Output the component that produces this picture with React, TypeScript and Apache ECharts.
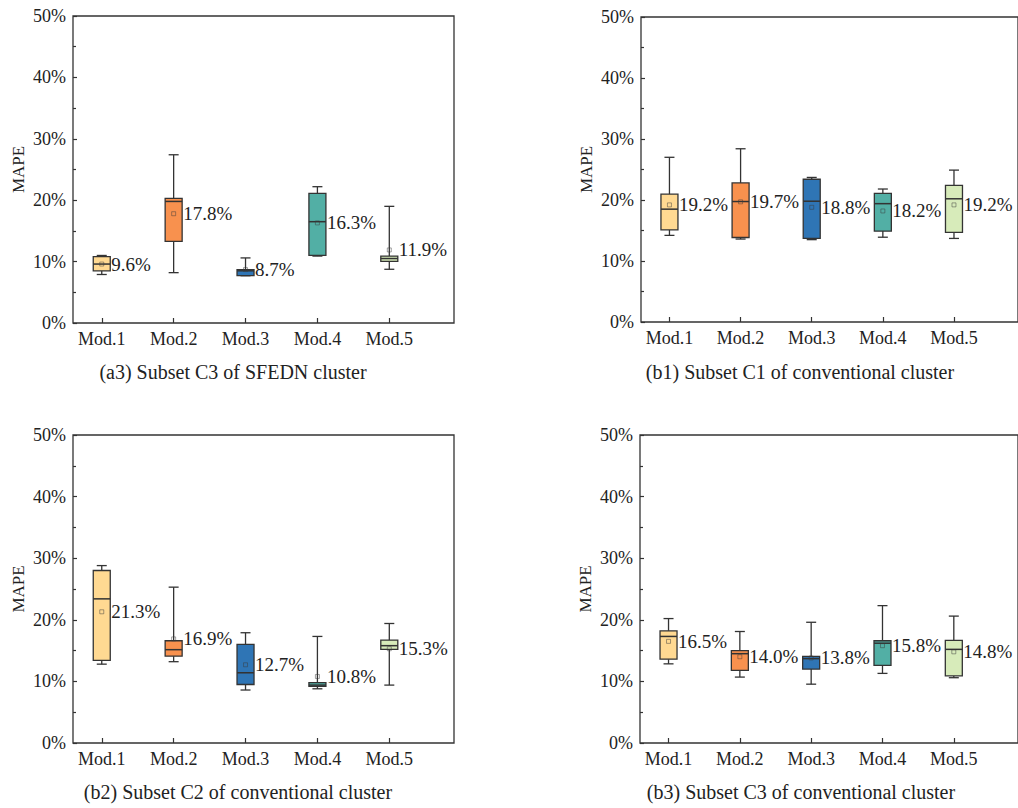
import { useEffect, useRef } from "react";
import * as echarts from "echarts";

const models = ["Mod.1", "Mod.2", "Mod.3", "Mod.4", "Mod.5"];
const modelPositions = [1, 2, 3, 4, 5];
const boxColors = ["#FFD992", "#F8914E", "#2F75B5", "#52AFA5", "#D7EBBA"];
const yTickValues = [0, 10, 20, 30, 40, 50];

// (a3) Subset C3 of SFEDN cluster
const a3Low = [7.9, 8.2, 7.7, 10.9, 8.75];
const a3Q1 = [8.5, 13.3, 7.7, 11.0, 10.05];
const a3Median = [9.6, 19.8, 8.5, 16.5, 10.5];
const a3Q3 = [10.8, 20.3, 8.7, 21.1, 10.9];
const a3High = [11.0, 27.4, 10.6, 22.2, 19.0];
const a3Mean = [9.6, 17.8, 8.7, 16.3, 11.9];

// (b1) Subset C1 of conventional cluster
const b1Low = [14.2, 13.6, 13.5, 13.9, 13.7];
const b1Q1 = [15.1, 13.85, 13.7, 14.9, 14.7];
const b1Median = [18.5, 19.75, 19.8, 19.4, 20.2];
const b1Q3 = [20.95, 22.8, 23.4, 21.1, 22.4];
const b1High = [27.0, 28.4, 23.7, 21.8, 24.9];
const b1Mean = [19.2, 19.7, 18.8, 18.2, 19.2];

// (b2) Subset C2 of conventional cluster
const b2Low = [12.8, 13.2, 8.6, 8.8, 9.4];
const b2Q1 = [13.4, 14.1, 9.5, 9.2, 15.2];
const b2Median = [23.4, 15.15, 11.4, 9.4, 15.8];
const b2Q3 = [28.0, 16.6, 16.0, 9.8, 16.7];
const b2High = [28.8, 25.3, 17.9, 17.3, 19.4];
const b2Mean = [21.3, 16.9, 12.7, 10.8, 15.3];

// (b3) Subset C3 of conventional cluster
const b3Low = [12.85, 10.7, 9.55, 11.3, 10.6];
const b3Q1 = [13.6, 11.8, 12.0, 12.6, 10.9];
const b3Median = [17.3, 14.5, 13.7, 16.2, 15.2];
const b3Q3 = [18.2, 15.0, 14.05, 16.6, 16.65];
const b3High = [20.2, 18.1, 19.6, 22.3, 20.6];
const b3Mean = [16.5, 14.0, 13.8, 15.8, 14.8];

const captions = [
  "(a3) Subset C3 of SFEDN cluster",
  "(b1) Subset C1 of conventional cluster",
  "(b2) Subset C2 of conventional cluster",
  "(b3) Subset C3 of conventional cluster",
];

const FONT = "Times New Roman, Liberation Serif, DejaVu Serif, serif";
const TEXT = "#222";
const LINE = "#333";

const panelData = [
  [a3Low, a3Q1, a3Median, a3Q3, a3High, a3Mean],
  [b1Low, b1Q1, b1Median, b1Q3, b1High, b1Mean],
  [b2Low, b2Q1, b2Median, b2Q3, b2High, b2Mean],
  [b3Low, b3Q1, b3Median, b3Q3, b3High, b3Mean],
];

const grids = [
  { left: 73, top: 16, width: 381, height: 307 },
  { left: 641, top: 17, width: 381, height: 305 },
  { left: 73, top: 435, width: 381, height: 308 },
  { left: 640, top: 435, width: 382, height: 308 },
];

const captionPos = [
  { x: 233, y: 372 },
  { x: 800, y: 372 },
  { x: 238, y: 792 },
  { x: 801, y: 792 },
];

function renderBox(params: any, api: any) {
  const i = params.dataIndex;
  const x = api.value(0);
  const low = api.coord([x, api.value(1)]);
  const q1 = api.coord([x, api.value(2)]);
  const med = api.coord([x, api.value(3)]);
  const q3 = api.coord([x, api.value(4)]);
  const high = api.coord([x, api.value(5)]);
  const mean = api.coord([x, api.value(6)]);
  const cx = low[0];
  const bw = 17;
  const cw = 10;
  const lineStyle = { stroke: LINE, lineWidth: 1.3 };
  return {
    type: "group",
    children: [
      { type: "line", shape: { x1: cx, y1: high[1], x2: cx, y2: q3[1] }, style: lineStyle },
      { type: "line", shape: { x1: cx, y1: q1[1], x2: cx, y2: low[1] }, style: lineStyle },
      { type: "line", shape: { x1: cx - cw / 2, y1: high[1], x2: cx + cw / 2, y2: high[1] }, style: lineStyle },
      { type: "line", shape: { x1: cx - cw / 2, y1: low[1], x2: cx + cw / 2, y2: low[1] }, style: lineStyle },
      {
        type: "rect",
        shape: { x: cx - bw / 2, y: q3[1], width: bw, height: Math.max(q1[1] - q3[1], 1) },
        style: { fill: boxColors[i], stroke: LINE, lineWidth: 1.3 },
      },
      { type: "line", shape: { x1: cx - bw / 2, y1: med[1], x2: cx + bw / 2, y2: med[1] }, style: { stroke: LINE, lineWidth: 1.5 } },
      {
        type: "rect",
        shape: { x: cx - 2, y: mean[1] - 2, width: 4, height: 4 },
        style: { fill: "none", stroke: "rgba(60,60,60,0.6)", lineWidth: 0.8 },
      },
      {
        type: "text",
        x: cx + bw / 2 + 1,
        y: mean[1],
        style: {
          text: api.value(6).toFixed(1) + "%",
          fontSize: 19,
          fontFamily: FONT,
          fill: TEXT,
          align: "left",
          verticalAlign: "middle",
        },
      },
    ],
  };
}

export default function App() {
  const ref = useRef<HTMLDivElement>(null);
  useEffect(() => {
    if (!ref.current) return;
    const chart = echarts.init(ref.current, null, { renderer: "svg" });
    const option: any = {
      animation: false,
      backgroundColor: "#fff",
      textStyle: { fontFamily: FONT },
      grid: grids.map((g) => ({ ...g, show: true, borderColor: LINE, borderWidth: 1.3, backgroundColor: "transparent", containLabel: false })),
      xAxis: grids.map((_, k) => ({
        type: "value",
        gridIndex: k,
        min: 0.6,
        max: 5.9,
        splitLine: { show: false },
        axisLine: { show: false },
        axisTick: { show: true, inside: true, length: 5, customValues: modelPositions, lineStyle: { color: LINE, width: 1.2 } },
        axisLabel: {
          customValues: modelPositions,
          formatter: (v: number) => models[Math.round(v) - 1] ?? "",
          fontSize: 18,
          fontFamily: FONT,
          color: TEXT,
          margin: 7,
        },
      })),
      yAxis: grids.map((_, k) => ({
        type: "value",
        gridIndex: k,
        min: 0,
        max: 50,
        interval: 10,
        name: "MAPE",
        nameLocation: "middle",
        nameGap: 46,
        nameTextStyle: { fontSize: 17, fontFamily: FONT, color: TEXT },
        splitLine: { show: false },
        axisLine: { show: false },
        axisTick: { show: true, inside: true, length: 4, lineStyle: { color: LINE, width: 1.2 } },
        minorTick: { show: true, splitNumber: 2, length: 3, lineStyle: { color: LINE, width: 1.2 } },
        axisLabel: {
          formatter: (v: number) => (yTickValues.includes(v) ? v + "%" : ""),
          fontSize: 18,
          fontFamily: FONT,
          color: TEXT,
          margin: 7,
        },
      })),
      series: panelData.map((d, k) => ({
        type: "custom",
        xAxisIndex: k,
        yAxisIndex: k,
        renderItem: renderBox,
        clip: false,
        encode: { x: 0, y: [1, 2, 3, 4, 5, 6] },
        data: modelPositions.map((p, i) => [p, d[0][i], d[1][i], d[2][i], d[3][i], d[4][i], d[5][i]]),
      })),
      graphic: captions.map((c, k) => ({
        type: "text",
        x: captionPos[k].x,
        y: captionPos[k].y,
        style: {
          text: c,
          fontSize: 20,
          fontFamily: FONT,
          fill: TEXT,
          align: "center",
          verticalAlign: "middle",
        },
      })),
    };
    chart.setOption(option);
    return () => chart.dispose();
  }, []);
  return <div ref={ref} style={{ position: "absolute", left: 0, top: 0, width: 1018, height: 808 }} />;
}
